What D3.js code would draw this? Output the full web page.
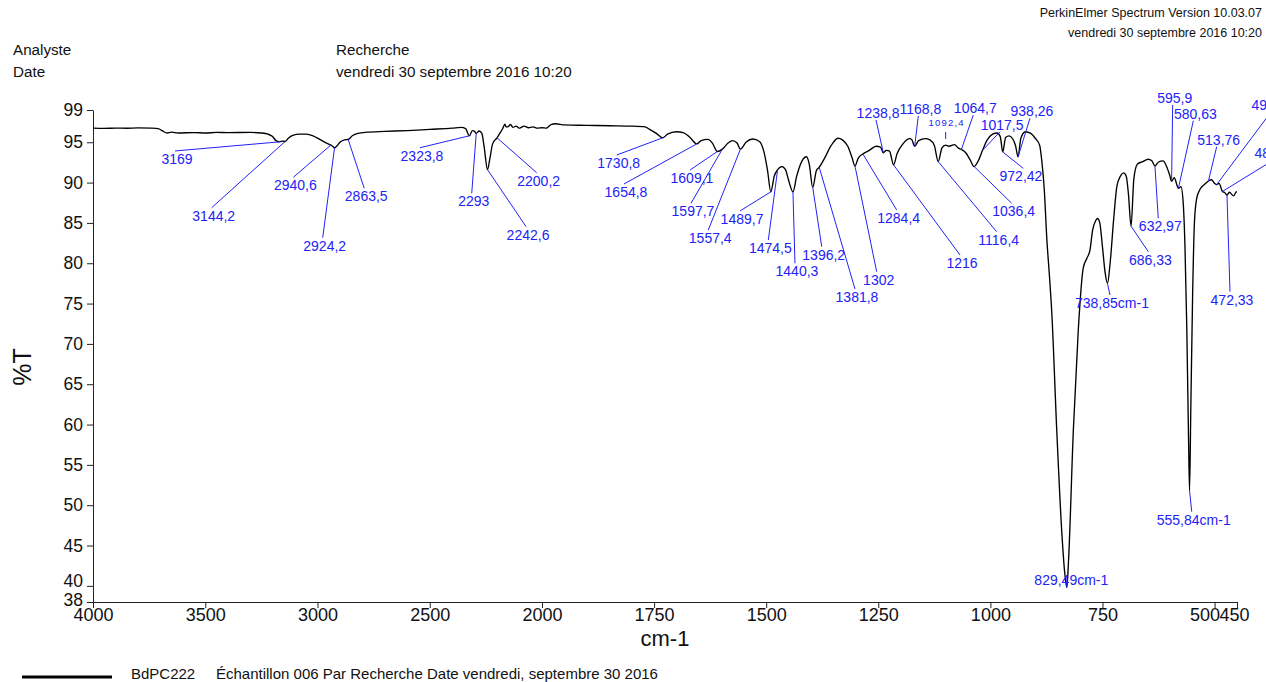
<!DOCTYPE html>
<html>
<head>
<meta charset="utf-8">
<script src="https://cdn.jsdelivr.net/npm/d3@7"></script>
<style>
  body { margin: 0; background: #fff; }
  svg text { font-family: "Liberation Sans", Arial, Helvetica, sans-serif; }
</style>
</head>
<body>
<svg id="chart" width="1266" height="682"></svg>
<script>
// IR spectrum: wavenumber (cm-1) vs transmittance (%T)
const wavenumbers = [
  4000, 3950, 3900, 3850, 3800, 3740, 3710, 3690, 3670, 3650, 3620, 3550, 3500, 3450, 3400, 3300, 3250, 3220, 3200, 3185,
  3169, 3155, 3144.2, 3130, 3110, 3080, 3050, 3020, 2990, 2960, 2940.6, 2930, 2924.2, 2915, 2900, 2880, 2863.5, 2845, 2820, 2780,
  2700, 2600, 2500, 2400, 2360, 2340, 2323.8, 2310, 2300, 2293, 2280, 2268, 2258, 2242.6, 2232, 2220, 2200.2, 2190, 2175, 2165,
  2160, 2150, 2140, 2130, 2115, 2100, 2080, 2060, 2040, 2020, 2000, 1990, 1980, 1970, 1950, 1900, 1850, 1800, 1770, 1760,
  1745, 1730.8, 1720, 1700, 1685, 1670, 1654.8, 1645, 1630, 1620, 1609.1, 1597.7, 1585, 1575, 1565, 1557.4, 1545, 1530, 1515, 1505,
  1497, 1489.7, 1482, 1474.5, 1465, 1457, 1450, 1440.3, 1432, 1420, 1410, 1404, 1396.2, 1388, 1381.8, 1370, 1355, 1340, 1330, 1318,
  1308, 1302, 1295, 1284.4, 1270, 1255, 1245, 1238.8, 1232, 1225, 1216, 1208, 1195, 1180, 1175, 1168.8, 1160, 1145, 1135, 1125,
  1116.4, 1108, 1100, 1092.4, 1080, 1072, 1064.7, 1055, 1045, 1036.4, 1028, 1017.5, 1008, 995, 985, 978, 972.42, 966, 958, 950,
  944, 938.26, 932, 922, 910, 900, 890, 885, 880, 874, 868, 863, 852, 841, 834, 829.49, 826, 815, 804, 793,
  785, 778, 772, 765, 761, 756, 750, 744, 738.85, 733, 725, 718, 710, 703, 697, 692, 686.33, 680, 672, 660,
  648, 640, 632.97, 625, 615, 607, 600, 595.9, 590, 580.63, 575, 570, 566, 562, 558, 555.84, 553, 549, 545, 540,
  532, 522, 513.76, 507, 500, 495.31, 490, 482.45, 477, 472.33, 467, 462, 457, 452, 450
];
const transmittance = [
  96.75, 96.72, 96.76, 96.74, 96.78, 96.75, 96.7, 96.4, 96.15, 96.25, 96.15, 96.2, 96.15, 96.22, 96.2, 96.22, 96.15, 96.0, 95.7, 95.2,
  95.05, 95.15, 95.1, 95.5, 95.85, 96.0, 96.0, 95.8, 95.35, 94.9, 94.65, 94.45, 94.3, 94.5, 95.0, 95.3, 95.35, 95.8, 96.1, 96.25,
  96.35, 96.45, 96.6, 96.75, 96.85, 96.7, 95.8, 96.45, 96.35, 96.1, 96.4, 96.1, 94.5, 91.6, 93.0, 94.8, 95.55, 96.0, 96.7, 97.25,
  96.9, 96.95, 97.2, 96.85, 97.0, 96.75, 97.0, 96.8, 96.9, 96.75, 96.8, 96.75, 97.2, 97.3, 97.15, 97.1, 97.05, 97.0, 96.9, 96.6,
  96.1, 95.55, 96.0, 96.3, 96.2, 95.6, 94.8, 95.2, 95.35, 94.9, 93.85, 94.15, 94.9, 95.2, 94.9, 94.15, 95.0, 95.4, 95.1, 93.8,
  91.5, 88.85, 90.8, 91.6, 92.0, 91.6, 90.3, 88.85, 90.8, 92.7, 93.2, 92.3, 89.4, 91.5, 91.9, 93.0, 94.6, 95.5, 95.3, 94.5,
  93.0, 92.05, 93.0, 93.55, 94.0, 94.5, 94.4, 93.7, 94.0, 93.9, 92.2, 93.6, 94.8, 95.45, 95.3, 94.5, 95.2, 95.45, 95.3, 94.6,
  92.6, 94.3, 94.65, 94.5, 94.7, 94.3, 94.1, 93.7, 92.8, 92.0, 92.6, 94.0, 95.2, 96.0, 96.15, 95.7, 93.8, 95.6, 95.8, 95.4,
  94.6, 93.2, 95.5, 96.3, 96.1, 95.5, 94.6, 92.5, 89.3, 82.9, 78.2, 73.8, 59.3, 46.9, 41.5, 39.8, 42.8, 59.3, 71.7, 79.4,
  80.6, 81.6, 84.1, 85.3, 85.55, 85.0, 82.0, 78.8, 77.5, 80.0, 85.5, 89.5, 90.8, 91.2, 90.8, 88.5, 84.6, 90.5, 92.3, 92.6,
  92.9, 92.7, 92.05, 92.55, 92.7, 92.0, 90.9, 90.15, 90.6, 89.3, 89.5, 87.5, 82.0, 72.0, 58.0, 51.8, 62.0, 76.0, 85.0, 88.0,
  89.2, 89.8, 90.2, 90.35, 89.9, 89.75, 89.9, 88.9, 88.75, 88.45, 88.8, 88.55, 88.35, 88.85, 88.85
];

// labelled peaks
const peakWavenumbers = [
  3169, 3144.2, 2940.6, 2924.2, 2863.5, 2323.8, 2293, 2242.6, 2200.2, 1730.8, 1654.8, 1609.1, 1597.7, 1557.4,
  1489.7, 1474.5, 1440.3, 1396.2, 1381.8, 1302, 1284.4, 1238.8, 1216, 1168.8, 1116.4, 1092.4, 1064.7, 1036.4,
  1017.5, 972.42, 938.26, 829.49, 738.85, 686.33, 632.97, 595.9, 580.63, 555.84, 513.76, 495.31, 482.45, 472.33
];
const peakLabels = [
  "3169", "3144,2", "2940,6", "2924,2", "2863,5", "2323,8", "2293", "2242,6", "2200,2", "1730,8", "1654,8", "1609,1", "1597,7", "1557,4",
  "1489,7", "1474,5", "1440,3", "1396,2", "1381,8", "1302", "1284,4", "1238,8", "1216", "1168,8", "1116,4", "1092,4", "1064,7", "1036,4",
  "1017,5", "972,42", "938,26", "829,49cm-1", "738,85cm-1", "686,33", "632,97", "595,9", "580,63", "555,84cm-1", "513,76", "495,31", "482,45", "472,33"
];

const xTicks = [4000, 3500, 3000, 2500, 2000, 1750, 1500, 1250, 1000, 750, 500, 450];
const yTicks = [99, 95, 90, 85, 80, 75, 70, 65, 60, 55, 50, 45, 40, 38];

// leader-line placement for each peak label: [dx, dy, side, textDx, textDy, stub]
const labelPlacement = [
  [-104.6, 9.1, "b"], [-73.4, 66.2, "b"], [-37.5, 32.2, "b"], [-11.8, 89.8, "b"], [16.1, 48.9, "b"],
  [-49.3, 11.9, "b"], [-4.5, 59.9, "b"], [38.5, 57, "b"], [39.6, 34.9, "b"], [-46, 17.2, "b"],
  [-72.8, 40.1, "b"], [-27.3, 18.5, "b"], [-31.4, 54.2, "b"], [-32.2, 80.9, "b"], [-30.8, 19.1, "b"],
  [-9.3, 70.3, "b"], [2, 71.4, "b"], [9, 59.3, "b"], [35.8, 121.7, "b"], [21.7, 105.6, "b"],
  [33.8, 56, "b"], [-7.3, -32.8, "a"], [66.5, 90.2, "b"], [3.6, -30.3, "a"], [58.5, 70.1, "b"],
  [-3.3, -14.3, "a", 1, -6, 7], [11.9, -34.5, "a"], [37.6, 36.8, "b"], [17.5, -18.6, "a"], [20.5, 16.4, "b", -2.3, 13],
  [11.9, -38.5, "a"], [0, -4, "a", 4.5, 2], [2.5, 11.6, "b"], [17.3, 25.6, "b"], [3.3, 52.2, "b"],
  [1.1, -76.4, "a"], [14.9, -67.5, "a"], [2.2, 21, "b"], [8.3, -34.3, "a"], [54.3, -72.6, "a"],
  [49.5, -30.5, "a", 4, -3], [3, 96.6, "b"]
];

const svg = d3.select("#chart");
const blue = "#2222f6";

const x = d3.scaleLinear().domain([4000, 2000, 450]).range([93, 542, 1237]);
const y = d3.scaleLinear().domain([38, 99]).range([602, 110]);

// header texts
const header = svg.append("g").attr("font-size", 15.2).attr("fill", "#111");
header.append("text").attr("x", 13).attr("y", 55).text("Analyste");
header.append("text").attr("x", 13).attr("y", 77).text("Date");
header.append("text").attr("x", 336).attr("y", 55).text("Recherche");
header.append("text").attr("x", 336).attr("y", 77).text("vendredi 30 septembre 2016 10:20");

const info = svg.append("g").attr("font-size", 12.5).attr("fill", "#111").attr("text-anchor", "end");
info.append("text").attr("x", 1262).attr("y", 17).text("PerkinElmer Spectrum Version 10.03.07");
info.append("text").attr("x", 1262).attr("y", 37).text("vendredi 30 septembre 2016 10:20");

// axes
const yAxis = svg.append("g").attr("transform", `translate(${x(4000)},0)`)
  .call(d3.axisLeft(y).tickValues(yTicks).tickFormat(d3.format("d")).tickSize(6).tickSizeOuter(0).tickPadding(4));
const xAxis = svg.append("g").attr("transform", `translate(0,${y(38)})`)
  .call(d3.axisBottom(x).tickValues(xTicks).tickFormat(d3.format("d")).tickSize(6).tickSizeOuter(0).tickPadding(0));

[yAxis, xAxis].forEach(g => {
  g.selectAll("text").attr("fill", "#111")
    .attr("font-family", "'Liberation Sans', Arial, Helvetica, sans-serif");
  g.selectAll("line, path").attr("stroke", "#222");
});
yAxis.selectAll("text").attr("font-size", 17.5);
xAxis.selectAll("text").attr("font-size", 18);
yAxis.selectAll(".tick").filter(d => d === 40).select("text").attr("dy", "0.05em");
yAxis.selectAll(".tick").filter(d => d === 38).select("text").attr("dy", "0.2em");
xAxis.selectAll(".tick").filter(d => d === 500).select("text").attr("dx", -10);
xAxis.selectAll(".tick").filter(d => d === 450).select("text").attr("dx", -3);

svg.append("text").attr("x", (x(4000) + x(450)) / 2).attr("y", 646)
  .attr("text-anchor", "middle").attr("font-size", 22).attr("fill", "#111").text("cm-1");
svg.append("text").attr("transform", "translate(31,367) rotate(-90)")
  .attr("text-anchor", "middle").attr("font-size", 25).attr("fill", "#111").text("%T");

// spectrum trace
const points = wavenumbers.map((w, i) => [w, transmittance[i]]);
const line = d3.line().x(d => x(d[0])).y(d => y(d[1])).curve(d3.curveMonotoneX);
svg.append("path").attr("d", line(points))
  .attr("fill", "none").attr("stroke", "#000").attr("stroke-width", 1.35).attr("stroke-linejoin", "round");

// peak annotations
const valueAt = w => transmittance[wavenumbers.indexOf(w)];
const ann = svg.append("g");
peakWavenumbers.forEach((w, i) => {
  const [dx, dy, side, tdx, tdy, stub] = labelPlacement[i];
  const px = x(w), py = y(valueAt(w));
  const lx = px + dx, ly = py + dy;
  const ex = stub ? lx : px, ey = stub ? ly + stub : py;
  ann.append("line").attr("x1", lx).attr("y1", ly).attr("x2", ex).attr("y2", ey)
    .attr("stroke", blue).attr("stroke-width", 1);
  const ox = tdx !== undefined ? tdx : 2;
  const oy = tdy !== undefined ? tdy : (side === "b" ? 13 : -2);
  const t = ann.append("text").attr("x", lx + ox).attr("y", ly + oy)
    .attr("text-anchor", "middle").attr("fill", blue).attr("font-size", 14).text(peakLabels[i]);
  if (stub) t.attr("font-size", 9.5).attr("letter-spacing", 1.2);
});

// legend
svg.append("line").attr("x1", 22).attr("x2", 112).attr("y1", 677).attr("y2", 677)
  .attr("stroke", "#000").attr("stroke-width", 3);
svg.append("text").attr("x", 131).attr("y", 679).attr("font-size", 15).attr("fill", "#111").text("BdPC222");
svg.append("text").attr("x", 216).attr("y", 679).attr("font-size", 15).attr("fill", "#111")
  .text("Échantillon 006 Par Recherche Date vendredi, septembre 30 2016");
</script>
</body>
</html>
